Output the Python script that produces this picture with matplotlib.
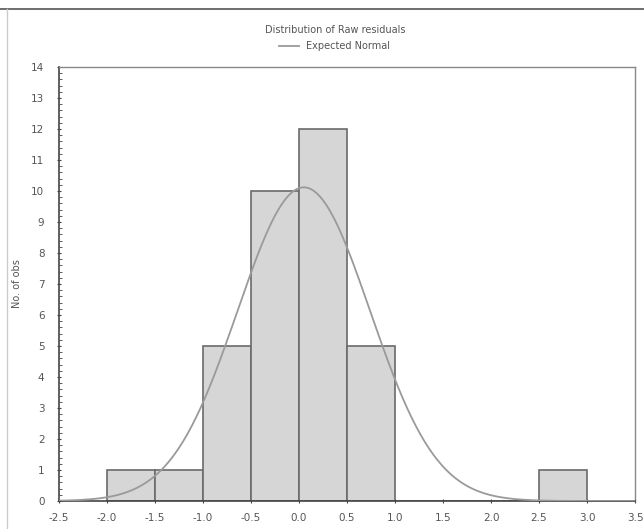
import numpy as np
import matplotlib
matplotlib.use("Agg")
import matplotlib.pyplot as plt
from matplotlib.ticker import MultipleLocator

# Data
bin_edges = [-2.0, -1.5, -1.0, -0.5, 0.0, 0.5, 1.0, 1.5, 2.0, 2.5, 3.0]
counts = [1, 1, 5, 10, 12, 5, 0, 0, 0, 1]
fit_mean = 0.05
fit_sd = 0.69
n_obs = 35
bin_width = 0.5
x_ticks = [-2.5, -2.0, -1.5, -1.0, -0.5, 0.0, 0.5, 1.0, 1.5, 2.0, 2.5, 3.0, 3.5]
y_ticks = list(range(0, 15))

fig = plt.figure(figsize=(6.44, 5.29), dpi=100)
ax = fig.add_axes([59/644, 1-501/529, (635-59)/644, (501-67)/529])

lefts = bin_edges[:-1]
ax.bar(lefts, counts, width=bin_width, align='edge', color='#d6d6d6',
       edgecolor='#6a6a6a', linewidth=1.2, zorder=2)

xs = np.linspace(-2.5, 3.5, 400)
ys = n_obs * bin_width / (fit_sd * np.sqrt(2*np.pi)) * np.exp(-0.5*((xs-fit_mean)/fit_sd)**2)
line, = ax.plot(xs, ys, color='#9a9a9a', linewidth=1.3, zorder=3, label='Expected Normal')

ax.set_xlim(-2.5, 3.5)
ax.set_ylim(0, 14)
ax.set_xticks(x_ticks)
ax.set_xticklabels([f"{t:.1f}" for t in x_ticks])
ax.set_yticks(y_ticks)
ax.yaxis.set_minor_locator(MultipleLocator(0.2))
ax.tick_params(axis='both', labelsize=7.5, colors='#444444', length=3, direction='inout')
ax.tick_params(axis='y', pad=9)
ax.tick_params(axis='x', pad=7)
ax.tick_params(axis='y', which='minor', length=2, direction='in', color='#444444')
for lab in ax.get_xticklabels() + ax.get_yticklabels():
    lab.set_color('#555555')
for sp in ['left', 'bottom']:
    ax.spines[sp].set_color('#444444')
    ax.spines[sp].set_linewidth(1.2)
for sp in ['top', 'right']:
    ax.spines[sp].set_color('#888888')
    ax.spines[sp].set_linewidth(1.0)

ax.set_ylabel('No. of obs', fontsize=7, color='#555555')
ax.yaxis.set_label_coords(-0.064, 0.5)

fig.text(0.52, 1-30/529, 'Distribution of Raw residuals', ha='center', va='center',
         fontsize=7, color='#555555')
fig.legend(handles=[line], loc='center', bbox_to_anchor=(0.52, 1-46/529), frameon=False,
           fontsize=7, handlelength=2.0, labelcolor='#555555')

fig.add_artist(plt.Line2D([0, 1], [1-9/529, 1-9/529], color='#555555', linewidth=1.2))
fig.add_artist(plt.Line2D([7/644, 7/644], [0, 1-9/529], color='#cccccc', linewidth=1.0))

fig.savefig('out.png', dpi=100)
